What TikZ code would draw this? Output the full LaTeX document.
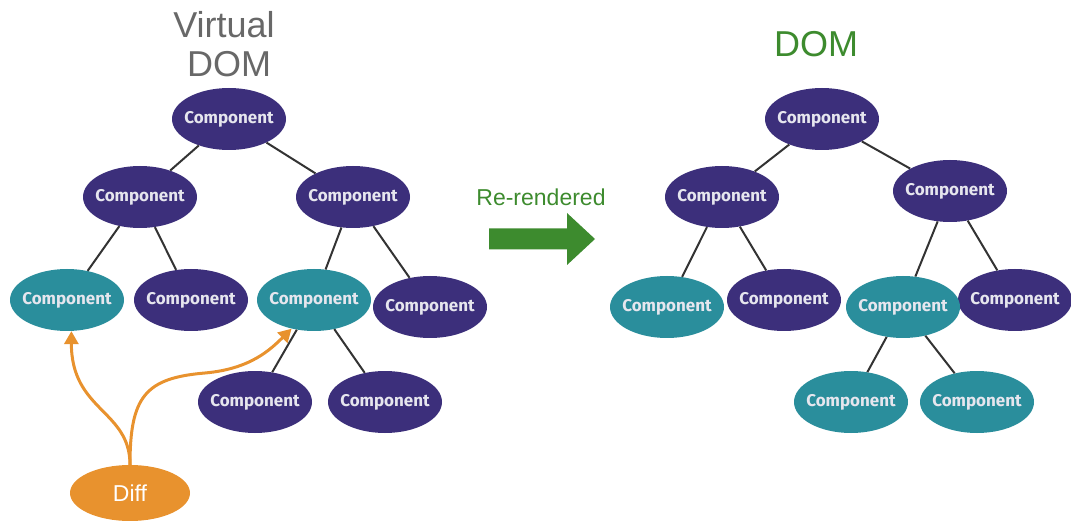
\documentclass[tikz,border=0pt]{standalone}
\usepackage{fontspec}
\setmainfont{Liberation Sans}
\newfontfamily\compfont{Fira Sans}
\usetikzlibrary{arrows.meta,shapes.geometric}
\definecolor{purp}{HTML}{3C2F7B}
\definecolor{tealc}{HTML}{2A8E9C}
\definecolor{orng}{HTML}{E8922E}
\definecolor{grn}{HTML}{3D8B2E}
\definecolor{ttlgray}{HTML}{686868}
\definecolor{edgec}{HTML}{333333}
\definecolor{comptext}{HTML}{E6E6EE}
\begin{document}
\begin{tikzpicture}[x=1pt,y=-1pt,
  comp/.style={ellipse, minimum width=114pt, minimum height=62pt, inner xsep=-12pt, inner ysep=0pt,
    text=comptext, font=\compfont\bfseries\fontsize{17}{17}\selectfont},
  pnode/.style={comp, fill=purp},
  tnode/.style={comp, fill=tealc},
  link/.style={draw=edgec, line width=2pt},
  diffarrow/.style={draw=orng, line width=3pt, -{Triangle[width=14pt,length=13pt]}},
  title/.style={anchor=base, inner sep=0pt, font=\fontsize{36}{36}\selectfont},
]
\useasboundingbox (0,0) rectangle (1071,521);

% titles
\node[title, text=ttlgray] (tv) at (224,38) {Virtual};
\node[title, text=ttlgray] (td) at (229,77) {DOM};
\node[title, text=grn] (tdom) at (816,57) {DOM};

% virtual DOM tree
\node[pnode] (vr)  at (229,119) {Component};
\node[pnode] (va)  at (140,197) {Component};
\node[pnode] (vb)  at (353,197) {Component};
\node[tnode] (vt1) at (67,300)  {Component};
\node[pnode] (vp1) at (191,300) {Component};
\node[tnode] (vt2) at (314,300) {Component};
\node[pnode] (vp2) at (430,307) {Component};
\node[pnode] (vp3) at (255,402) {Component};
\node[pnode] (vp4) at (385,402) {Component};

\draw[link] (vr) -- (va);
\draw[link] (vr) -- (vb);
\draw[link] (va) -- (vt1);
\draw[link] (va) -- (vp1);
\draw[link] (vb) -- (vt2);
\draw[link] (vb) -- (vp2);
\draw[link] (vt2) -- (vp3);
\draw[link] (vt2) -- (vp4);

% real DOM tree
\node[pnode] (dr)  at (822,119) {Component};
\node[pnode] (da)  at (722,197) {Component};
\node[pnode] (db)  at (950,191) {Component};
\node[tnode] (dt1) at (667,307) {Component};
\node[pnode] (dp1) at (784,300) {Component};
\node[pnode] (dp2) at (1015,300) {Component};
\node[tnode] (dt2) at (903,307) {Component};
\node[tnode] (dt3) at (851,402) {Component};
\node[tnode] (dt4) at (977,402) {Component};

\draw[link] (dr) -- (da);
\draw[link] (dr) -- (db);
\draw[link] (da) -- (dt1);
\draw[link] (da) -- (dp1);
\draw[link] (db) -- (dt2);
\draw[link] (db) -- (dp2);
\draw[link] (dt2) -- (dt3);
\draw[link] (dt2) -- (dt4);

% re-render arrow
\node[anchor=base, inner sep=0pt, text=grn, font=\fontsize{23}{23}\selectfont] (rr) at (541,206) {Re-rendered};
\fill[grn] (489,228.5) -- (567,228.5) -- (567,213) -- (595,239) -- (567,265)
  -- (567,249.5) -- (489,249.5) -- cycle;

% diff node and its arrows
\node[ellipse, fill=orng, minimum width=120pt, minimum height=56pt, inner sep=0pt,
  text=white, font=\fontsize{23}{23}\selectfont] (diff) at (130,493) {Diff};
\coordinate (bend) at (205,373);
\draw[diffarrow] (diff.north) .. controls +(0,-55) and +(0,80) .. (vt1.-82);
\draw[diffarrow] (diff.north) .. controls +(0,-68) and (145,378) .. (bend)
  .. controls (250,369) and (270,350) .. (vt2.-128);
\end{tikzpicture}
\end{document}
